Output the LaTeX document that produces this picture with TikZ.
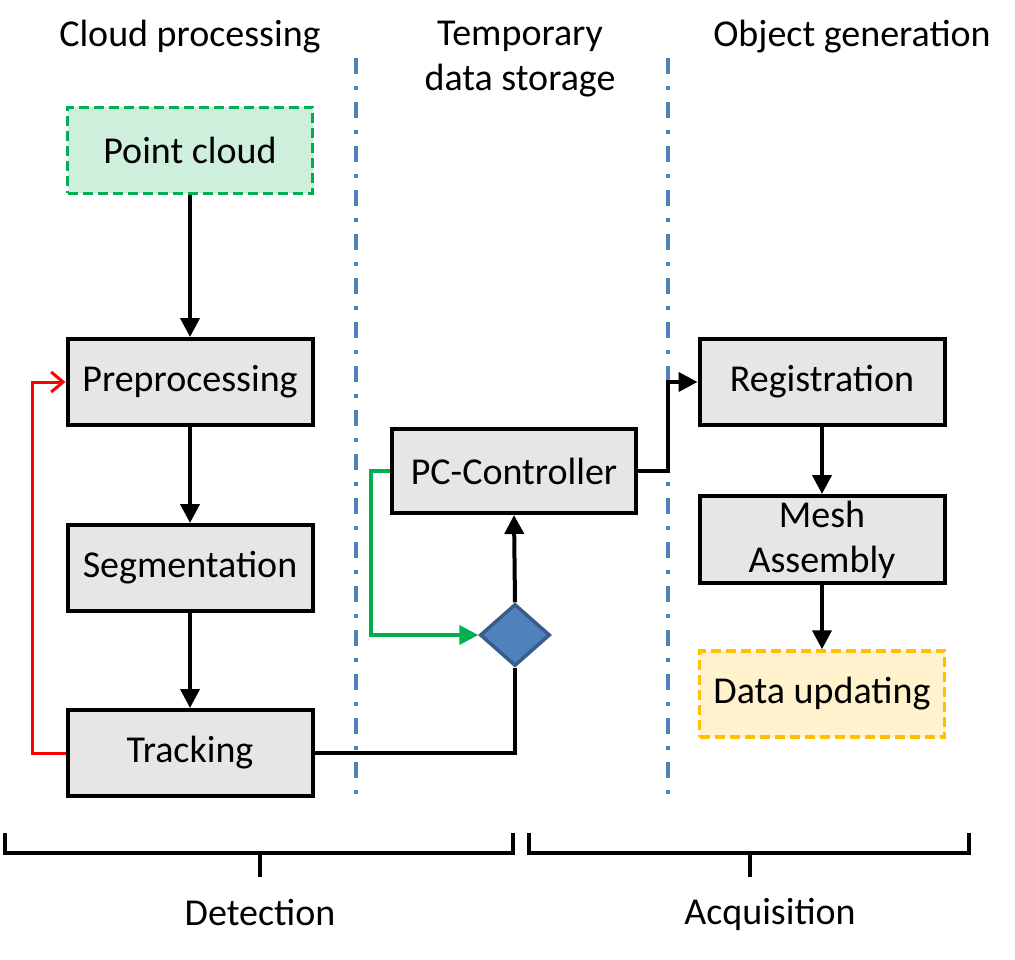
\documentclass[tikz,border=0pt]{standalone}
\usepackage{xcolor}
\usepackage{fontspec}
\setmainfont{Carlito}
\usepackage{tikz}
\usetikzlibrary{calc, arrows.meta, shapes.geometric}

\definecolor{boxgray}{RGB}{230,230,230}
\definecolor{cloudfill}{RGB}{205,239,220}
\definecolor{cloudline}{RGB}{0,176,80}
\definecolor{updfill}{RGB}{255,242,204}
\definecolor{updline}{RGB}{255,192,0}
\definecolor{sepblue}{RGB}{79,129,189}
\definecolor{diafill}{RGB}{79,129,189}
\definecolor{diaedge}{RGB}{56,93,138}

\begin{document}
\begin{tikzpicture}[x = 1pt, y = -1pt,
	every node/.style = {font = \fontsize{38}{45}\selectfont},
	block/.style = {draw, line width = 4pt, fill = boxgray, minimum width = 245pt, minimum height = 86pt, inner sep = 0pt, align = center},
	arr/.style = {line width = 4pt, -{Triangle[length = 19pt, width = 19pt]}},
	sep/.style = {sepblue, line width = 4pt, dash pattern = on 16pt off 12pt on 4pt off 12pt}]
							\useasboundingbox (0,0) rectangle (1015,960);
				
							% column titles
							\node (tcloud) at (190,37) {Cloud processing};
							\node [align = center] (tstore) at (520,59) {Temporary\\data storage};
							\node (tobject) at (852,37) {Object generation};
				
							% separators
							\foreach \x/\n in {356/a, 668/b}
							{
								\coordinate (s\n top) at (\x,58);
								\coordinate (s\n bot) at (\x,800);
								\draw [sep] (s\n top) -- (s\n bot);
							}
				
							% blocks
							\node [block, fill = cloudfill, draw = cloudline, line width = 3.5pt, dash pattern = on 10pt off 5pt] (pcloud) at (190,150.5) {Point cloud};
							\node [block] (prep) at (190,382) {Preprocessing};
							\node [block] (seg) at (190,568) {Segmentation};
							\node [block] (track) at (190,753) {Tracking};
							\node [block, minimum width = 244pt, minimum height = 84pt] (pcc) at (514,471) {PC-Controller};
							\node [diamond, draw = diaedge, line width = 3.5pt, fill = diafill, minimum width = 70pt, minimum height = 62pt, inner sep = 0pt] (dia) at (515,635) {};
							\node [block] (reg) at (822,382) {Registration};
							\node [block, minimum height = 87pt] (mesh) at (822,539.5) {Mesh\\Assembly};
							\node [block, fill = updfill, draw = updline, line width = 3.5pt, dash pattern = on 10pt off 5pt] (upd) at (822,694) {Data updating};
				
							% connectors
							\foreach \a/\b in {pcloud/prep, prep/seg, seg/track, reg/mesh, mesh/upd}
							{
								\draw [arr] (\a.south) -- (\b.north);
							}
							\draw [line width = 4pt] (track.east) -| (dia.south);
							\draw [arr] (dia.north) -- (pcc.south);
							\draw [arr, cloudline] (pcc.west) -- ++(-19,0) |- (dia.west);
							\draw [arr] (pcc.east) -- (pcc.east -| sbtop) |- (reg.west);
							\draw [red, line width = 3pt, -{Straight Barb[length = 12pt, width = 20pt]}] (track.west) -- ++(-33,0) |- (prep.west);
				
							% phases
							\begin{scope}[line width = 4pt]
								\draw (5,833) |- (513,853) -- (513,833);
								\draw (260,853) -- (260,877);
								\draw (529,833) |- (969,853) -- (969,833);
								\draw (750,853) -- (750,877);
							\end{scope}
							\node (detect) at (260,912) {Detection};
							\node (acquire) at (770,914) {Acquisition};
						\end{tikzpicture}
\end{document}
